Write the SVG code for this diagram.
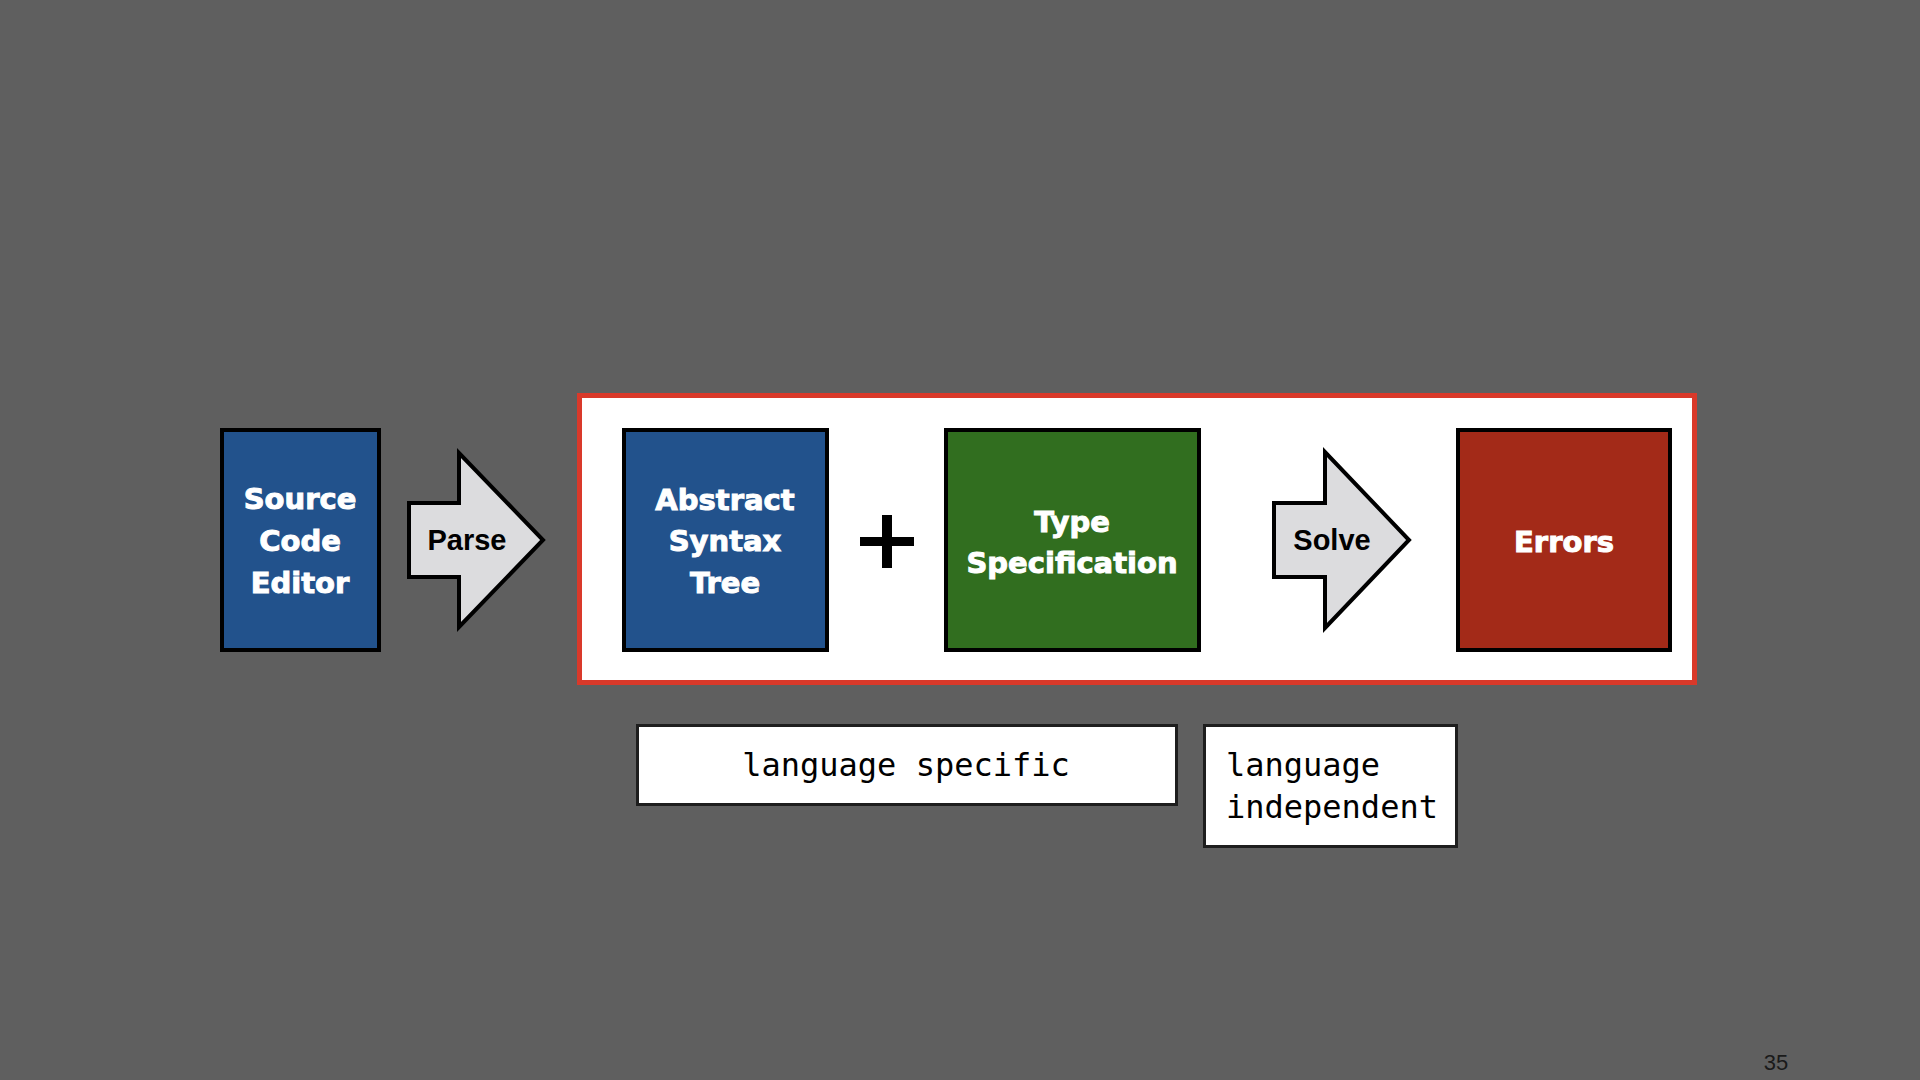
<svg xmlns="http://www.w3.org/2000/svg" width="1920" height="1080" viewBox="0 0 1920 1080">
<style>
.box{stroke:#000;stroke-width:4}
.arrow{fill:#dcdcde;stroke:#000;stroke-width:4;stroke-linejoin:miter}
.wt{font-family:"DejaVu Sans",sans-serif;font-weight:bold;font-size:29px;fill:#fff;stroke:#fff;stroke-width:1;text-anchor:middle}
.at{font-family:"Liberation Sans",Arial,sans-serif;font-weight:bold;font-size:29px;fill:#000;text-anchor:middle}
.note{fill:#fff;stroke:#1e1e1e;stroke-width:3}
.mono{font-family:"DejaVu Sans Mono",monospace;font-size:32px;fill:#000}
</style>
<rect width="1920" height="1080" fill="#5f5f5f"/>
<g id="frame">
<rect x="579.5" y="395.5" width="1115" height="287" fill="#fff" stroke="#d9392a" stroke-width="5"/>
</g>
<g id="source">
<rect class="box" x="222" y="430" width="157" height="220" fill="#22528c"/>
<text class="wt" x="300" y="509">Source</text>
<text class="wt" x="300" y="551">Code</text>
<text class="wt" x="300" y="593">Editor</text>
</g>
<g id="connectors">
<g id="parse">
<polygon class="arrow" points="409,503 459,503 459,453 543,540 459,627 459,577 409,577"/>
<text class="at" x="467" y="550">Parse</text>
</g>
<g id="plus">
<rect x="860" y="537" width="54" height="9" fill="#000"/>
<rect x="882" y="515" width="10" height="53" fill="#000"/>
</g>
<g id="solve">
<polygon class="arrow" points="1274,503 1325,503 1325,452 1409,540 1325,628 1325,577 1274,577"/>
<text class="at" x="1332" y="550">Solve</text>
</g>
</g>
<g id="ast">
<rect class="box" x="624" y="430" width="203" height="220" fill="#22528c"/>
<text class="wt" x="725" y="510">Abstract</text>
<text class="wt" x="725" y="551">Syntax</text>
<text class="wt" x="725" y="593">Tree</text>
</g>
<g id="typespec">
<rect class="box" x="946" y="430" width="253" height="220" fill="#316e1f"/>
<text class="wt" x="1072" y="532">Type</text>
<text class="wt" x="1072" y="573">Specification</text>
</g>
<g id="errors">
<rect class="box" x="1458" y="430" width="212" height="220" fill="#a32a18"/>
<text class="wt" x="1564" y="552">Errors</text>
</g>
<g id="lang-specific">
<rect class="note" x="637.5" y="725.5" width="539" height="79"/>
<text class="mono" x="906" y="776" text-anchor="middle">language specific</text>
</g>
<g id="lang-independent">
<rect class="note" x="1204.5" y="725.5" width="252" height="121"/>
<text class="mono" x="1226" y="776">language</text>
<text class="mono" x="1226" y="818">independent</text>
</g>
<text x="1776" y="1070" font-family="Liberation Sans, Arial, sans-serif" font-size="22" fill="#1a1a1a" text-anchor="middle">35</text>
</svg>
